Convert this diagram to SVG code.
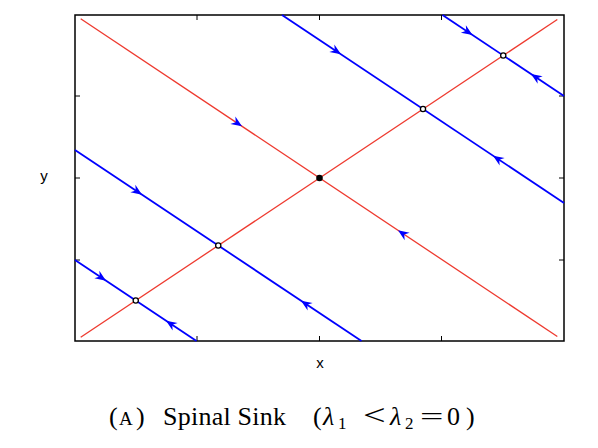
<svg xmlns="http://www.w3.org/2000/svg" width="598" height="448" viewBox="0 0 598 448">
<style>
.red{stroke:#ee3a2f;stroke-width:1.3;fill:none}
.blue{stroke:#0000ff;stroke-width:1.8;fill:none}
.ah{fill:#0000ff}
.frame{stroke:#000;stroke-width:1.5;fill:none}
.tick{stroke:#000;stroke-width:1}
.eq{fill:#fff;stroke:#000;stroke-width:1.3}
.lab{font-family:"Liberation Sans",Arial,sans-serif;font-size:15px;fill:#000}
.cap{font-family:"Liberation Serif","Times New Roman",serif;font-size:26px;fill:#000}
</style>
<defs>
<path id="head" d="M0,0 L-11,-4.5 L-7.5,0 L-11,4.5 Z"/>
</defs>
<rect width="598" height="448" fill="#fff"/>
<g id="axes">
<rect class="frame" x="75" y="15" width="489" height="326"/>
<path class="tick" d="M197,341v-5M319.5,341v-5M441.5,341v-5M197,15v5M319.5,15v5M441.5,15v5M75,96h5M75,178h5M75,260h5M564,96h-5M564,178h-5M564,260h-5"/>
<text class="lab" x="320" y="368" text-anchor="middle">x</text>
<text class="lab" x="44" y="181" text-anchor="middle">y</text>
</g>
<g id="connectors">
<line class="red" x1="80.7" y1="18.8" x2="557.3" y2="336.5"/>
<line class="red" x1="80.7" y1="337.2" x2="557.3" y2="19.5"/>
<line class="blue" x1="75" y1="260" x2="196.5" y2="341"/>
<line class="blue" x1="75" y1="150" x2="361.5" y2="341"/>
<line class="blue" x1="282" y1="15" x2="564" y2="203"/>
<line class="blue" x1="442.5" y1="15" x2="564" y2="96"/>
<g class="ah">
<use href="#head" transform="translate(106,280.7) rotate(33.69)"/>
<use href="#head" transform="translate(166,320.7) rotate(213.69)"/>
<use href="#head" transform="translate(142,194.7) rotate(33.69)"/>
<use href="#head" transform="translate(301,300.7) rotate(213.69)"/>
<use href="#head" transform="translate(341,54.3) rotate(33.69)"/>
<use href="#head" transform="translate(493,155.7) rotate(213.69)"/>
<use href="#head" transform="translate(472.5,35) rotate(33.69)"/>
<use href="#head" transform="translate(531,74) rotate(213.69)"/>
<use href="#head" transform="translate(242,126.3) rotate(33.69)"/>
<use href="#head" transform="translate(398,230.3) rotate(213.69)"/>
</g>
</g>
<g id="eq1"><circle class="eq" cx="135.75" cy="300.5" r="2.6"/></g>
<g id="eq2"><circle class="eq" cx="218.25" cy="245.5" r="2.6"/></g>
<g id="eq3"><circle class="eq" cx="423" cy="109" r="2.6"/></g>
<g id="eq4"><circle class="eq" cx="503.25" cy="55.5" r="2.6"/></g>
<g id="center"><circle cx="319.5" cy="178" r="3.3" fill="#000"/></g>
<g id="caption">
<text class="cap" y="425"><tspan x="109">(</tspan><tspan x="119" font-size="19">A</tspan><tspan x="136">)</tspan><tspan x="163" textLength="123">Spinal Sink</tspan><tspan x="313">(</tspan><tspan x="323" font-style="italic">λ</tspan><tspan x="338" font-size="17" dy="4">1</tspan><tspan x="390" dy="-4" font-style="italic">λ</tspan><tspan x="405" font-size="17" dy="4">2</tspan><tspan x="447" dy="-4">0</tspan><tspan x="466">)</tspan></text>
<text class="cap" transform="translate(363,425) scale(1.55,1.1)">&lt;</text>
<text class="cap" transform="translate(420,425) scale(1.6,1)">=</text>
</g>
</svg>
